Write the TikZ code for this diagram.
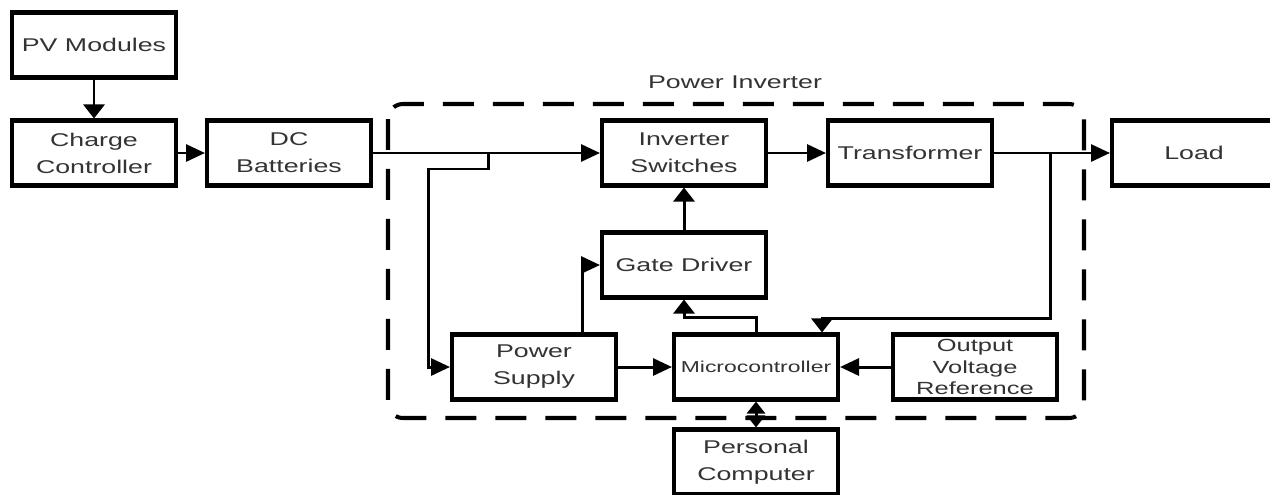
\documentclass[tikz,border=0pt]{standalone}
\usepackage{fontspec}
\setmainfont{Liberation Sans}[FakeStretch=1.45]
\usetikzlibrary{arrows.meta,positioning,calc}
\definecolor{Ink}{HTML}{333333}
\tikzset{
  block/.style={draw=black,line width=2.3pt,minimum width=3.28cm,minimum height=1.3cm,align=center,inner sep=1pt,fill=white,text=Ink,font=\fontsize{10.5}{15.3}\selectfont},
  arrow/.style={-{Triangle[length=3.8mm,width=3.4mm]},line width=1.7pt,draw=black},
  vArrow/.style={-{Triangle[length=2.8mm,width=4.2mm]},line width=1.7pt,draw=black},
  frame/.style={line width=2.3pt,dash pattern=on 0.62cm off 0.38cm,rounded corners=0.3cm}
}
\begin{document}
\begin{tikzpicture}[x=0.02cm,y=-0.02cm]
\useasboundingbox (0,0) rectangle (1270,494);
% power inverter frame
\draw[frame] (388,104) rectangle (1084,418);
\node[text=Ink,font=\fontsize{10.5}{13}\selectfont] (lblinv) at (735,82) {Power Inverter};
% blocks
\node[block] (pv) at (94,45) {PV Modules};
\node[block] (cc) at (94,153) {Charge\\Controller};
\node[block] (dc) at (289,153) {DC\\Batteries};
\node[block] (sw) at (684,153) {Inverter\\Switches};
\node[block] (tr) at (910,153) {Transformer};
\node[block] (load) at (1194,153) {Load};
\node[block] (gd) at (684,265) {Gate Driver};
\node[block] (ps) at (534,367) {Power\\Supply};
\node[block,font=\fontsize{9}{11}\selectfont] (mc) at (756,367) {Microcontroller};
\node[block,font=\fontsize{10}{12.4}\selectfont] (ovr) at (975,367) {Output\\Voltage\\Reference};
\node[block] (pc) at (756,462) {Personal\\Computer};
% junctions
\coordinate (j1) at (488,153);
\coordinate (k1) at (428,169);
\coordinate (k2) at (684,317);
\coordinate (j2) at (1050,153);
\coordinate (k3) at (822,318);
% connectors
\draw[vArrow] (pv)--(cc);
\draw[arrow] (cc)--(dc);
\draw[arrow] (dc)--(sw);
\draw[arrow] (sw)--(tr);
\draw[arrow] (tr)--(load);
\draw[arrow] (j1) |- (k1) |- (ps.west);
\draw[arrow] (ps)--(mc);
\draw[arrow] (ovr)--(mc);
\draw[arrow] ($(ps.north)+(48,0)$) |- (gd.west);
\draw[vArrow] (mc.north) |- (k2) -- (gd.south);
\draw[vArrow] (gd)--(sw);
\draw[vArrow] (j2) |- (k3) -- (mc.north -| k3);
\draw[{Triangle[length=2.4mm,width=3.6mm]}-{Triangle[length=2.4mm,width=3.6mm]},line width=1.7pt] (mc)--(pc);
\end{tikzpicture}
\end{document}
